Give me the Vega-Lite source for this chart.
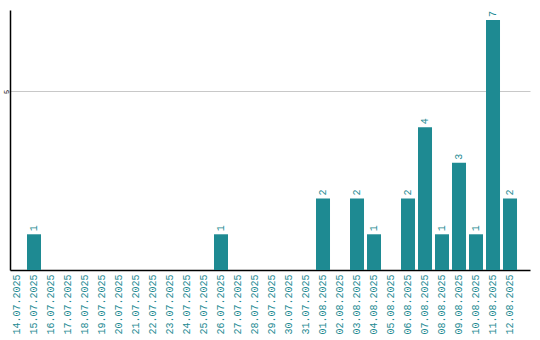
{
  "$schema": "https://vega.github.io/schema/vega-lite/v6.json",
  "width": 520,
  "height": 260,
  "autosize": "none",
  "padding": {"left": 10, "top": 10, "right": 10, "bottom": 70},
  "background": "white",
  "config": {"view": {"stroke": null}},
  "data": {"values": [
    {"date": "14.07.2025", "count": 0},
    {"date": "15.07.2025", "count": 1},
    {"date": "16.07.2025", "count": 0},
    {"date": "17.07.2025", "count": 0},
    {"date": "18.07.2025", "count": 0},
    {"date": "19.07.2025", "count": 0},
    {"date": "20.07.2025", "count": 0},
    {"date": "21.07.2025", "count": 0},
    {"date": "22.07.2025", "count": 0},
    {"date": "23.07.2025", "count": 0},
    {"date": "24.07.2025", "count": 0},
    {"date": "25.07.2025", "count": 0},
    {"date": "26.07.2025", "count": 1},
    {"date": "27.07.2025", "count": 0},
    {"date": "28.07.2025", "count": 0},
    {"date": "29.07.2025", "count": 0},
    {"date": "30.07.2025", "count": 0},
    {"date": "31.07.2025", "count": 0},
    {"date": "01.08.2025", "count": 2},
    {"date": "02.08.2025", "count": 0},
    {"date": "03.08.2025", "count": 2},
    {"date": "04.08.2025", "count": 1},
    {"date": "05.08.2025", "count": 0},
    {"date": "06.08.2025", "count": 2},
    {"date": "07.08.2025", "count": 4},
    {"date": "08.08.2025", "count": 1},
    {"date": "09.08.2025", "count": 3},
    {"date": "10.08.2025", "count": 1},
    {"date": "11.08.2025", "count": 7},
    {"date": "12.08.2025", "count": 2}
  ]},
  "encoding": {
    "x": {
      "field": "date", "type": "ordinal", "sort": null,
      "scale": {"paddingInner": 0.176, "paddingOuter": 0.382, "align": 0},
      "axis": {
        "title": null, "labelAngle": -90, "labelColor": "#1e8a92",
        "labelFont": "Liberation Mono", "labelFontSize": 10,
        "ticks": false, "labelPadding": 4, "domainColor": "#000000", "domainWidth": 1.5,
        "labelAlign": "right", "labelBaseline": "middle"
      }
    },
    "y": {
      "field": "count", "type": "quantitative",
      "scale": {"domain": [0, 7.28], "nice": false, "zero": true},
      "axis": {
        "title": null, "values": [5], "ticks": false, "labelAngle": -90,
        "labelFontSize": 7, "labelFont": "Liberation Mono", "labelColor": "#000000",
        "labelPadding": 1, "labelAlign": "center", "labelBaseline": "bottom",
        "domainColor": "#000000", "domainWidth": 1.5,
        "gridColor": "#c8c8c8", "gridWidth": 1
      }
    }
  },
  "layer": [
    {"mark": {"type": "bar", "color": "#1e8a92"}},
    {
      "transform": [{"filter": "datum.count > 0"}],
      "mark": {"type": "text", "angle": 270, "align": "left", "baseline": "middle",
               "dx": 3, "color": "#1e8a92", "font": "Liberation Mono", "fontSize": 10},
      "encoding": {"text": {"field": "count", "type": "quantitative"}}
    }
  ]
}
